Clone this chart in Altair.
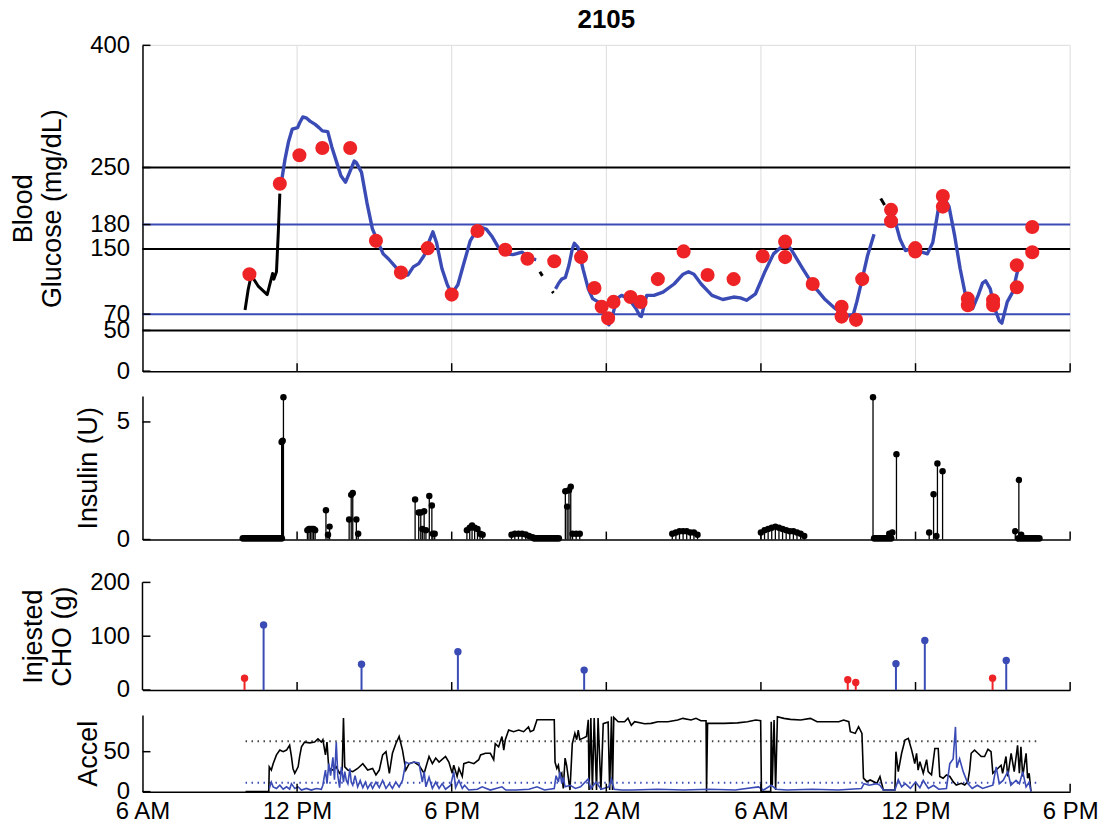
import altair as alt
import pandas as pd

# ---------------------------------------------------------------- time axis
# hours after 6 AM on the first day
tick_hours = [0, 6, 12, 18, 24, 30, 36]
tick_labels = ["6 AM", "12 PM", "6 PM", "12 AM", "6 AM", "12 PM", "6 PM"]
grid_hours = [6, 12, 18, 24, 30, 36]

# ---------------------------------------------------------------- glucose
cgm_seg1_h = [5.39, 5.53, 5.67, 5.81, 6.02, 6.10, 6.22, 6.35, 6.50, 6.70, 6.85, 6.98, 7.19, 7.35,
              7.54, 7.70, 7.88, 8.05, 8.22, 8.30, 8.50, 8.71, 8.92, 9.13, 9.34, 9.54, 9.82, 10.03,
              10.30, 10.51, 10.72, 10.93, 11.13, 11.27, 11.41, 11.62, 11.83, 12.00, 12.24, 12.45,
              12.72, 13.00, 13.20, 13.35, 13.55, 13.83, 14.10, 14.38, 14.73, 14.90, 15.08, 15.28]
cgm_seg1_v = [232, 260, 282, 297, 299, 305, 312, 311, 307, 303, 299, 295, 294, 275,
              256, 240, 232, 245, 258, 256, 244, 207, 175, 159, 144, 138, 128, 118,
              118, 128, 132, 142, 160, 171, 158, 126, 106, 95, 106, 130,
              160, 175, 176, 174, 166, 151, 144, 143, 146, 142, 138, 137]

cgm_seg2_h = [16.03, 16.15, 16.27, 16.41, 16.55, 16.68, 16.76, 16.90, 17.10, 17.30, 17.47, 17.68,
              17.89, 18.00, 18.10, 18.20, 18.31, 18.45, 18.59, 18.87, 19.15, 19.30, 19.36, 19.50,
              19.57, 19.85, 20.20, 20.63, 20.98, 21.19, 21.40, 21.68, 22.10, 22.52, 22.94, 23.20,
              23.44, 23.79, 24.14, 24.49, 24.78, 25.06, 25.20, 25.62, 26.04, 26.46, 26.88, 27.30,
              27.58, 27.72, 27.93, 28.14, 28.39]
cgm_seg2_v = [101, 108, 113, 115, 130, 150, 157, 152, 125, 101, 89, 85,
              75, 62, 57, 62, 77, 90, 93, 89, 77, 68, 67, 85,
              93, 93, 97, 107, 119, 122, 119, 107, 93, 88, 91, 90,
              87, 95, 121, 144, 152, 154, 148, 126, 105, 89, 77, 67,
              69, 85, 113, 142, 168]

cgm_seg3_h = [29.05, 29.19, 29.40, 29.61, 29.80, 29.96, 30.25, 30.46, 30.67, 30.88, 31.10, 31.30,
              31.52, 31.73, 31.94, 32.22, 32.43, 32.60, 32.72, 32.90, 33.07, 33.25, 33.35, 33.56,
              33.77, 33.98]
cgm_seg3_v = [200, 186, 162, 148, 150, 150, 146, 144, 158, 198, 213, 202,
              166, 126, 93, 77, 93, 108, 111, 101, 77, 62, 59, 85,
              97, 126]

# short black traces
bg_black_seg = [1, 1, 1, 1, 1, 1, 1, 1, 1, 1, 2, 2, 3, 3, 4, 4]
bg_black_h = [3.98, 4.10, 4.22, 4.50, 4.84, 5.05, 5.10, 5.20, 5.27, 5.33,
              15.42, 15.52, 15.90, 15.95, 28.65, 28.80]
bg_black_v = [75, 100, 118, 104, 94, 120, 113, 122, 170, 218,
              122, 117, 98, 96, 212, 204]

# fingerstick readings
finger_h = [4.15, 5.33, 6.09, 6.98, 8.06, 9.06, 10.03, 11.07, 12.00, 13.00, 14.08, 14.94,
            15.98, 17.02, 17.54, 17.82, 18.07, 18.28, 18.94, 19.33, 20.00, 21.00, 21.93, 22.94,
            24.07, 24.94, 24.94, 26.01, 27.13, 27.13, 27.69, 27.93, 29.05, 29.05, 29.99, 29.99,
            31.06, 31.06, 32.03, 32.03, 33.01, 33.01, 33.93, 33.93, 34.53, 34.53]
finger_v = [119, 230, 265, 274, 274, 160, 121, 151, 94, 172, 149, 138,
            135, 140, 102, 79, 65, 85, 91, 85, 113, 147, 118, 113,
            141, 159, 140, 107, 79, 67, 63, 113, 198, 184, 151, 147,
            215, 202, 89, 81, 87, 81, 103, 130, 146, 177]

bg_black_lines = [250, 150, 50]
bg_blue_lines = [180, 70]
bg_ticks = [0, 50, 70, 150, 180, 250, 400]

# ---------------------------------------------------------------- insulin
basal_start = [3.90, 15.20, 28.40, 34.00]
basal_end = [5.40, 16.15, 29.05, 34.80]
basal_rate = [0.05, 0.05, 0.05, 0.05]

bolus_h = [5.40, 5.44, 5.47,
           6.40, 6.46, 6.52, 6.58, 6.64, 6.70,
           7.12, 7.20, 7.26,
           8.02, 8.10, 8.16, 8.30, 8.37,
           10.58, 10.72, 10.80, 10.86, 10.93, 11.00, 11.13, 11.23, 11.27, 11.34,
           12.59, 12.70, 12.79, 12.89, 13.00, 13.10, 13.20,
           14.32, 14.45, 14.59, 14.73, 14.87, 15.00, 15.14,
           16.41, 16.48, 16.55, 16.62, 16.69, 16.83, 16.97,
           20.56, 20.70, 20.84, 20.98, 21.12, 21.26, 21.40, 21.54,
           24.00, 24.14, 24.28, 24.42, 24.56, 24.70, 24.84, 24.98, 25.12, 25.26, 25.40, 25.54, 25.68,
           28.35, 28.98, 29.10, 29.26,
           30.53, 30.70, 30.81, 30.85, 31.05,
           33.87, 34.01, 34.10]
bolus_u = [4.15, 4.20, 6.05,
           0.40, 0.45, 0.45, 0.45, 0.45, 0.40,
           1.25, 0.20, 0.55,
           0.85, 1.90, 1.98, 0.85, 0.25,
           1.70, 1.15, 1.15, 0.45, 1.20, 0.40, 1.85, 1.45, 0.25, 0.25,
           0.40, 0.50, 0.60, 0.50, 0.45, 0.25, 0.20,
           0.20, 0.25, 0.25, 0.25, 0.22, 0.15, 0.10,
           2.05, 1.40, 2.10, 2.25, 0.25, 0.25, 0.25,
           0.25, 0.30, 0.35, 0.35, 0.35, 0.30, 0.30, 0.20,
           0.30, 0.40, 0.45, 0.50, 0.55, 0.50, 0.45, 0.40, 0.35, 0.35, 0.30, 0.25, 0.15,
           6.05, 0.25, 0.30, 3.63,
           0.30, 1.93, 0.15, 3.23, 2.90,
           0.35, 2.53, 0.20]

# ---------------------------------------------------------------- carbohydrates
meal_h = [4.70, 8.50, 12.24, 17.14, 29.24, 30.36, 33.52]
meal_g = [121, 48, 71, 37, 49, 92, 55]
rescue_h = [3.96, 27.37, 27.68, 32.99]
rescue_g = [22, 19, 14, 22]

# ---------------------------------------------------------------- accelerometer
accel_black_h = [4.00, 4.90, 4.92, 5.00, 5.07, 5.20, 5.33, 5.46, 5.59, 5.71, 5.78, 5.84, 5.91, 6.04,
                 6.10, 6.17, 6.29, 6.49, 6.68, 6.81, 6.94, 7.00, 7.10, 7.16, 7.23, 7.39, 7.52, 7.65,
                 7.75, 7.80, 7.85, 7.97, 8.16, 8.35, 8.55, 8.74, 8.93, 9.06, 9.19, 9.32, 9.45, 9.58,
                 9.70, 9.83, 9.96, 10.09, 10.22, 10.35, 10.54, 10.73, 10.93, 11.12, 11.25, 11.38,
                 11.51, 11.76, 11.89, 12.02, 12.08, 12.21, 12.28, 12.41, 12.47, 12.66, 12.86, 13.05,
                 13.12, 13.31, 13.50, 13.63, 13.69, 13.82, 13.95, 14.02, 14.08, 14.21, 14.40, 14.60,
                 14.79, 14.98, 15.05, 15.18, 15.31, 15.62, 15.98, 16.01, 16.08, 16.14, 16.20, 16.27,
                 16.33, 16.40, 16.46, 16.59, 16.68, 16.78, 16.85, 16.91, 16.97, 17.10, 17.23, 17.30,
                 17.33, 17.40, 17.46, 17.53, 17.62, 17.68, 17.79, 17.88, 18.07, 18.13, 18.20, 18.24,
                 18.29, 18.46, 18.71, 18.84, 18.97, 19.10, 19.49, 19.74, 20.00, 20.39, 20.77, 20.97,
                 21.29, 21.48, 21.67, 21.87, 21.89, 21.93, 22.57, 23.09, 23.48, 23.80, 23.99, 24.02,
                 24.38, 24.40, 24.44, 24.51, 24.57, 24.64, 24.89, 25.15, 25.54, 25.92, 26.18, 26.69,
                 27.02, 27.21, 27.41, 27.47, 27.66, 27.79, 27.92, 27.98, 28.11, 28.24, 28.50, 28.62,
                 28.75, 29.20, 29.24, 29.33, 29.46, 29.59, 29.72, 29.85, 29.91, 29.97, 30.04, 30.10,
                 30.17, 30.30, 30.43, 30.49, 30.62, 30.75, 30.88, 30.94, 31.07, 31.20, 31.33, 31.46,
                 31.58, 31.78, 31.91, 32.03, 32.10, 32.16, 32.29, 32.42, 32.55, 32.68, 32.81, 32.93,
                 33.00, 33.19, 33.32, 33.38, 33.51, 33.58, 33.71, 33.83, 33.96, 34.03, 34.09, 34.16,
                 34.29, 34.35, 34.41, 34.48]
accel_black_v = [0, 0, 31, 27, 35, 46, 52, 50, 52, 58, 44, 29, 23, 31,
                 44, 56, 62, 61, 62, 66, 62, 65, 46, 62, 29, 27, 31, 23,
                 27, 92, 31, 27, 25, 29, 35, 27, 29, 21, 27, 46, 50, 23,
                 48, 60, 69, 52, 27, 35, 37, 33, 23, 44, 35, 42,
                 37, 44, 37, 23, 33, 19, 29, 19, 35, 37, 35, 40,
                 46, 48, 48, 40, 60, 56, 69, 52, 65, 77, 75, 77,
                 75, 81, 75, 77, 90, 90, 90, 37, 29, 33, 19, 23,
                 4, 42, 33, 2, 60, 73, 65, 77, 65, 67, 69, 90,
                 2, 92, 2, 92, 2, 92, 2, 85, 87, 2, 94, 2,
                 93, 87.5, 87.5, 92, 83, 87.5, 85, 85.4, 87.5, 87.5, 89.6, 91.7,
                 89.6, 91.7, 88.8, 88.8, 0, 85.4, 85.4, 86, 87.5, 89.6, 88.8, 0,
                 0, 87.5, 8, 89.6, 2, 93.8, 91.7, 90.4, 89.6, 91.7, 87.5, 87.5,
                 87.5, 89.6, 87.5, 75, 72.9, 81.3, 72.9, 17, 12.5, 14.6, 10.4, 18.8,
                 2, 2, 50, 25, 48, 64.6, 66.7, 52, 44, 35, 48, 27,
                 37.5, 23, 40, 25, 21, 54, 54, 19, 16.7, 21, 19, 12.5,
                 8.3, 10.4, 8.3, 12.5, 27, 48, 52, 48, 44, 44, 53, 50,
                 23, 29, 33, 23, 44, 19, 48, 25, 58, 23, 56, 19,
                 48, 16.7, 23, 0]

accel_blue_h = [4.92, 5.00, 5.07, 5.20, 5.33, 5.46, 5.59, 5.71, 5.78, 5.91, 6.04, 6.17, 6.36, 6.55,
                6.75, 6.94, 7.00, 7.05, 7.10, 7.16, 7.23, 7.30, 7.39, 7.45, 7.52, 7.58, 7.65, 7.72,
                7.80, 7.85, 7.91, 7.97, 8.05, 8.10, 8.16, 8.25, 8.35, 8.45, 8.55, 8.65, 8.74, 8.85,
                8.93, 9.06, 9.19, 9.32, 9.45, 9.58, 9.70, 9.83, 9.96, 10.09, 10.22, 10.35, 10.54,
                10.73, 10.86, 10.93, 11.00, 11.12, 11.25, 11.38, 11.51, 11.63, 11.76, 11.96, 12.08,
                12.15, 12.28, 12.41, 12.50, 12.66, 13.00, 13.18, 13.50, 13.95, 14.10, 14.50, 15.00,
                15.31, 15.60, 15.98, 16.05, 16.14, 16.20, 16.27, 16.33, 16.40, 16.60, 16.80, 17.00,
                17.30, 17.40, 17.60, 17.80, 18.10, 18.20, 18.30, 18.60, 19.00, 20.00, 21.00, 22.00,
                23.00, 23.90, 24.10, 24.40, 24.60, 25.00, 26.00, 27.00, 27.90, 28.00, 28.20, 28.50,
                28.62, 28.75, 29.20, 29.33, 29.46, 29.60, 29.80, 30.00, 30.17, 30.30, 30.50, 30.70,
                30.90, 31.20, 31.33, 31.46, 31.55, 31.60, 31.71, 31.85, 32.03, 32.20, 32.40, 32.60,
                32.80, 33.00, 33.13, 33.25, 33.40, 33.58, 33.70, 33.90, 34.03, 34.16, 34.29, 34.41,
                34.48]
accel_blue_v = [4, 12, 6, 4, 8, 3, 6, 3, 10, 4, 6, 2, 4, 2,
                4, 3, 8, 18, 27, 10, 35, 20, 43, 15, 62, 20, 5, 31,
                12, 25, 14, 10, 29, 12, 8, 20, 6, 14, 5, 12, 4, 10,
                4, 12, 5, 14, 4, 10, 4, 12, 6, 14, 37, 35, 37,
                36, 12, 25, 6, 18, 4, 12, 4, 10, 3, 8, 25,
                5, 14, 4, 8, 2, 3, 6, 2, 6, 2, 2, 3,
                6, 2, 4, 20, 12, 25, 10, 18, 6, 8, 4, 6,
                16, 4, 12, 3, 6, 16, 3, 2, 2, 3, 2, 3,
                2, 6, 2, 8, 3, 2, 3, 2, 4, 10, 8, 10,
                8, 2, 2, 15, 6, 10, 4, 12, 5, 14, 4, 8,
                3, 4, 35, 41, 81, 30, 41, 25, 10, 4, 8, 4,
                6, 8, 31, 10, 14, 25, 8, 14, 10, 25, 6, 12,
                0]

accel_ref_start = 4.0
accel_ref_end = 34.75
accel_ref_black = 63
accel_ref_blue = 11

# ---------------------------------------------------------------- styling
FONT = "Liberation Sans"
BLUE = "#3a4bb5"
RED = "#ee2326"
W = 931
GAP = 25
H1, H2, H4 = 327, 144, 77
H3_DATA = 108          # height of the 0-200 g range in the carbohydrate panel
H3 = H3_DATA + 18      # extra room above it
CHO_TOP = 200 * H3 / H3_DATA
TICK = 8

xscale = alt.Scale(domain=[0, 36], nice=False, zero=False)
label_expr = "[" + ",".join(f"'{t}'" for t in tick_labels) + "][round(datum.value / 6)]"

x_plain = alt.Axis(labels=False, ticks=False, title=None, grid=False, domainColor="black",
                   domainWidth=1.5, values=tick_hours)
x_labelled = alt.Axis(ticks=False, title=None, grid=False, domainColor="black", domainWidth=1.5,
                      values=tick_hours, labelExpr=label_expr, labelPadding=8,
                      labelFontSize=24, labelFlush=False)


def yaxis(values, title, pad, **kw):
    return alt.Axis(values=values, ticks=False, grid=False, title=title, labelOverlap=False,
                    labelPadding=13, titlePadding=pad, domainColor="black", domainWidth=1.5,
                    labelFontSize=24, titleFontSize=27, titleFontWeight="normal", **kw)


def inward_ticks(height, yscale, yvalues, xaxis):
    xt = alt.Chart(pd.DataFrame({"h": tick_hours[1:]})).mark_rule(
        color="black", strokeWidth=1.5).encode(
        x=alt.X("h:Q", scale=xscale, axis=xaxis),
        y=alt.value(height), y2=alt.value(height - TICK))
    yt = alt.Chart(pd.DataFrame({"v": yvalues})).mark_rule(
        color="black", strokeWidth=1.5).encode(
        y=alt.Y("v:Q", scale=yscale), x=alt.value(0), x2=alt.value(TICK))
    return [xt, yt]


# ---------------------------------------------------------------- glucose panel
ys1 = alt.Scale(domain=[0, 400], nice=False)
Y1 = alt.Y("v:Q", scale=ys1, axis=yaxis(bg_ticks, ["Blood", "Glucose (mg/dL)"], 23))
X1 = alt.X("h:Q", scale=xscale, axis=x_plain)

cgm = pd.concat([
    pd.DataFrame({"h": cgm_seg1_h, "v": cgm_seg1_v, "seg": 1}),
    pd.DataFrame({"h": cgm_seg2_h, "v": cgm_seg2_v, "seg": 2}),
    pd.DataFrame({"h": cgm_seg3_h, "v": cgm_seg3_v, "seg": 3}),
])
black_bg = pd.DataFrame({"h": bg_black_h, "v": bg_black_v, "seg": bg_black_seg})
finger = pd.DataFrame({"h": finger_h, "v": finger_v})

grid = alt.Chart(pd.DataFrame({"h": grid_hours})).mark_rule(color="#dcdcdc", strokeWidth=1).encode(
    x=X1)
top_edge = alt.Chart(pd.DataFrame({"v": [400]})).mark_rule(color="#dcdcdc", strokeWidth=1).encode(
    y=Y1)
thr_black = alt.Chart(pd.DataFrame({"v": bg_black_lines})).mark_rule(
    color="black", strokeWidth=2).encode(y=Y1)
thr_blue = alt.Chart(pd.DataFrame({"v": bg_blue_lines})).mark_rule(
    color=BLUE, strokeWidth=2).encode(y=Y1)
black_line = alt.Chart(black_bg).mark_line(color="black", strokeWidth=3, strokeJoin="round").encode(
    x=X1, y=Y1, detail="seg:N")
cgm_line = alt.Chart(cgm).mark_line(color=BLUE, strokeWidth=3.4, strokeJoin="round").encode(
    x=X1, y=Y1, detail="seg:N")
finger_pts = alt.Chart(finger).mark_circle(color=RED, size=200, opacity=1).encode(x=X1, y=Y1)

p1 = alt.layer(grid, top_edge, thr_black, thr_blue, black_line, cgm_line, finger_pts,
               *inward_ticks(H1, ys1, bg_ticks, x_plain)).properties(
    width=W, height=H1,
    title=alt.Title("2105", fontSize=26, fontWeight="bold", font=FONT, anchor="middle", offset=0))

# ---------------------------------------------------------------- insulin panel
ys2 = alt.Scale(domain=[0, 6.1], nice=False)
Y2 = alt.Y("u:Q", scale=ys2, axis=yaxis([0, 5], "Insulin (U)", 14))
X2 = alt.X("h:Q", scale=xscale, axis=x_plain)

basal = pd.DataFrame({"h": basal_start, "h2": basal_end, "u": basal_rate})
bolus = pd.DataFrame({"h": bolus_h, "u": bolus_u, "zero": 0.0})

basal_mark = alt.Chart(basal).mark_rule(color="black", strokeWidth=7, strokeCap="round").encode(
    x=X2, x2="h2:Q", y=Y2)
stems = alt.Chart(bolus).mark_rule(color="black", strokeWidth=1.3).encode(x=X2, y=Y2, y2="zero:Q")
heads = alt.Chart(bolus).mark_circle(color="black", size=42, opacity=1).encode(x=X2, y=Y2)

p2 = alt.layer(basal_mark, stems, heads, *inward_ticks(H2, ys2, [0, 5], x_plain)).properties(
    width=W, height=H2)

# ---------------------------------------------------------------- carbohydrate panel
ys3 = alt.Scale(domain=[0, CHO_TOP], nice=False)
Y3 = alt.Y("g:Q", scale=ys3, axis=yaxis([0, 100, 200], ["Injested", "CHO (g)"], 13, domain=False,
                                         titleY=H3 - H3_DATA / 2))
X3 = alt.X("h:Q", scale=xscale, axis=x_plain)

meals = pd.DataFrame({"h": meal_h, "g": meal_g, "zero": 0.0})
rescue = pd.DataFrame({"h": rescue_h, "g": rescue_g, "zero": 0.0})

cho_axis_line = alt.Chart(pd.DataFrame({"g": [0], "g2": [200]})).mark_rule(
    color="black", strokeWidth=1.5).encode(x=alt.value(0), y=Y3, y2="g2:Q")
cho_layers = [cho_axis_line]
for df, col in [(rescue, RED), (meals, BLUE)]:
    cho_layers.append(alt.Chart(df).mark_rule(color=col, strokeWidth=2).encode(
        x=X3, y=Y3, y2="zero:Q"))
    cho_layers.append(alt.Chart(df).mark_circle(color=col, size=55, opacity=1).encode(x=X3, y=Y3))

p3 = alt.layer(*cho_layers, *inward_ticks(H3, ys3, [0, 100, 200], x_plain)).properties(
    width=W, height=H3)

# ---------------------------------------------------------------- accelerometer panel
ys4 = alt.Scale(domain=[0, 96], nice=False)
Y4 = alt.Y("a:Q", scale=ys4, axis=yaxis([0, 50], "Accel", 0))
X4 = alt.X("h:Q", scale=xscale, axis=x_labelled)

refs = pd.DataFrame({"h": [accel_ref_start] * 2, "h2": [accel_ref_end] * 2,
                     "a": [accel_ref_black, accel_ref_blue], "kind": ["black", "blue"]})
ref_lines = alt.Chart(refs).mark_rule(strokeWidth=2, strokeDash=[1.5, 4.5]).encode(
    x=X4, x2="h2:Q", y=Y4,
    color=alt.Color("kind:N", scale=alt.Scale(domain=["black", "blue"], range=["#444444", BLUE]),
                    legend=None))
acc_black = alt.Chart(pd.DataFrame({"h": accel_black_h, "a": accel_black_v})).mark_line(
    color="black", strokeWidth=1.6).encode(x=X4, y=Y4)
acc_blue = alt.Chart(pd.DataFrame({"h": accel_blue_h, "a": accel_blue_v})).mark_line(
    color=BLUE, strokeWidth=1.6).encode(x=X4, y=Y4)

p4 = alt.layer(ref_lines, acc_black, acc_blue, *inward_ticks(H4, ys4, [0, 50], x_labelled)).properties(
    width=W, height=H4)

# ---------------------------------------------------------------- layout
chart = alt.vconcat(p1, p2, p3, p4, spacing=GAP, bounds="flush").properties(
    padding={"left": 9, "top": 6, "right": 10, "bottom": 5}
).configure_view(stroke=None).configure_axis(
    labelFont=FONT, titleFont=FONT, labelColor="black", titleColor="black"
).configure_title(font=FONT, color="black")

chart.save("out.html", embed_options={"renderer": "svg", "actions": False})
